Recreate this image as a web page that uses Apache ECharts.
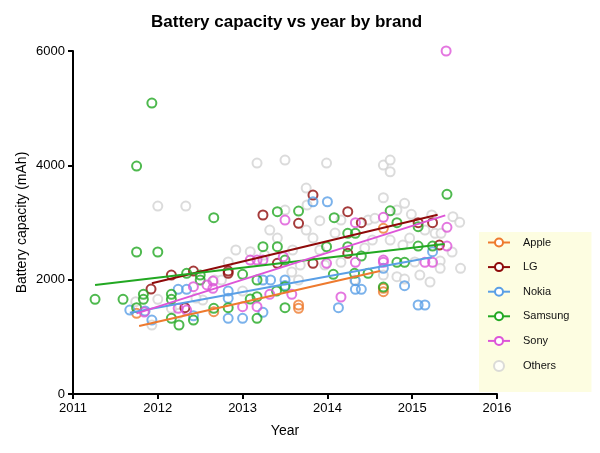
<!DOCTYPE html>
<html><head><meta charset="utf-8">
<script src="https://cdn.jsdelivr.net/npm/echarts@6/dist/echarts.min.js"></script>
<style>html,body{margin:0;padding:0;background:#fff}#c{width:600px;height:453px}</style>
</head><body><div id="c"></div><script>
// ---- data ----
const titleText = 'Battery capacity vs year by brand';
const xName = 'Year';
const yName = 'Battery capacity (mAh)';
const xTicks = [2011, 2012, 2013, 2014, 2015, 2016];
const yTicks = [0, 2000, 4000, 6000];
const legendNames = ['Apple', 'LG', 'Nokia', 'Samsung', 'Sony', 'Others'];

const appleData = [[2011.75,1411],[2012.66,1440],[2013.66,1557],[2013.66,1499],[2014.66,1849],[2014.66,1789],[2014.66,2898]];
const lgData = [[2011.92,1836],[2012.16,2081],[2012.42,2151],[2012.32,1509],[2012.83,2150],[2012.83,2111],[2013.24,3131],[2013.66,2986],[2013.41,2286],[2013.83,2286],[2013.83,3480],[2014.24,3190],[2014.40,2996],[2014.24,2460],[2015.07,2996],[2015.24,2996],[2015.32,2606]];
const nokiaData = [[2011.67,1469],[2011.85,1452],[2011.93,1294],[2012.24,1831],[2012.34,1831],[2012.42,1369],[2012.83,1801],[2012.83,1675],[2012.83,1324],[2013.0,1324],[2013.24,1994],[2013.33,1994],[2013.5,1994],[2013.5,1900],[2013.24,1429],[2013.83,3363],[2014.0,3363],[2014.13,1509],[2014.33,1831],[2014.40,1831],[2014.33,1982],[2014.66,2198],[2014.91,1894],[2015.07,1557],[2015.15,1557],[2015.24,2489]];
const samsungData = [[2011.26,1656],[2011.59,1656],[2011.75,3988],[2011.75,2484],[2011.75,1509],[2011.83,1744],[2011.83,1656],[2011.93,5090],[2012.0,2484],[2012.16,1744],[2012.16,1656],[2012.16,1324],[2012.25,1207],[2012.42,1294],[2012.34,2111],[2012.5,2081],[2012.5,1994],[2012.66,3085],[2012.66,1499],[2012.83,1509],[2013.0,2094],[2013.17,1994],[2013.09,1661],[2013.17,1702],[2013.17,1324],[2013.24,2577],[2013.41,2577],[2013.41,3189],[2013.66,3200],[2013.5,2343],[2013.5,1877],[2013.40,1801],[2013.5,1509],[2013.99,2577],[2014.08,3085],[2014.07,2094],[2014.24,2810],[2014.33,2810],[2014.24,2577],[2014.40,2413],[2014.32,2111],[2014.48,2111],[2014.74,3205],[2014.82,2996],[2014.66,1871],[2014.82,2303],[2014.91,2303],[2015.07,2926],[2015.07,2588],[2015.24,2588],[2015.41,3493]];
const sonyData = [[2015.40,6000],[2011.84,1434],[2012.24,1499],[2012.34,1469],[2012.42,1877],[2012.58,1907],[2012.65,1976],[2012.65,1849],[2013.09,2343],[2013.17,2343],[2013.24,2343],[2013.32,1744],[2013.58,1744],[2013.0,1527],[2013.17,1527],[2013.5,3043],[2013.48,2401],[2013.99,2286],[2014.16,1697],[2014.33,2996],[2014.33,2303],[2014.66,3090],[2014.66,2343],[2014.66,2303],[2015.15,2303],[2015.24,2303],[2015.41,2915],[2015.41,2588]];
const othersData = [[2012.0,3288],[2012.33,3288],[2013.17,4040],[2013.5,4093],[2013.99,4040],[2014.66,4005],[2014.74,4093],[2014.74,3888],[2013.75,3603],[2014.66,3433],[2014.91,3335],[2013.91,3031],[2013.5,3218],[2013.76,3306],[2014.16,3043],[2014.48,3043],[2014.56,3073],[2014.82,3218],[2014.99,3143],[2015.23,3131],[2015.48,3101],[2015.56,3003],[2015.15,2868],[2015.27,2811],[2015.34,2811],[2014.09,2816],[2015.33,2326],[2015.33,2198],[2015.57,2198],[2014.16,2303],[2014.32,1994],[2014.66,2081],[2014.82,2052],[2014.91,2011],[2013.66,1994],[2013.0,1801],[2013.09,2489],[2012.0,1656],[2011.74,1614],[2011.93,1207],[2012.25,1411],[2012.67,1994],[2012.75,1994],[2012.53,1644],[2012.16,1499],[2013.32,2868],[2013.41,2728],[2013.75,2868],[2013.83,2728],[2013.91,2519],[2013.59,2519],[2013.26,2431],[2013.68,2256],[2013.97,2256],[2013.58,2134],[2014.74,2693],[2014.89,2606],[2014.97,2728],[2015.47,2484],[2015.03,2309],[2015.09,2081],[2015.21,1959],[2014.53,2693],[2014.44,2554],[2012.92,2519],[2012.83,2309],[2012.45,1679]];

// regression line endpoints [year, mAh]
const appleTrend = [[2011.78,1190],[2014.62,2150]];
const lgTrend = [[2011.93,1936],[2015.30,3136]];
const nokiaTrend = [[2011.67,1420],[2015.23,2391]];
const samsungTrend = [[2011.26,1907],[2015.38,2624]];
const sonyTrend = [[2011.75,1411],[2015.39,3125]];

// ---- style ----
const FONT = 'Liberation Sans, Arial, sans-serif';
const colors = {Apple:'#ee7a2e', LG:'#8e0a0a', Nokia:'#5a9fe6', Samsung:'#22a822', Sony:'#dd55d8', Others:'#d2d2d2'};
const brandData = {Apple:appleData, LG:lgData, Nokia:nokiaData, Samsung:samsungData, Sony:sonyData};
const brandTrend = {Apple:appleTrend, LG:lgTrend, Nokia:nokiaTrend, Samsung:samsungTrend, Sony:sonyTrend};
const brands = ['Apple','LG','Nokia','Samsung','Sony'];

const series = [];
brands.forEach(b => {
  series.push({
    name: b, type: 'line', data: brandTrend[b], symbol: 'emptyCircle', showSymbol: false,
    z: 4, silent: true,
    lineStyle: {color: colors[b], width: 2}, itemStyle: {color: colors[b]}
  });
});
series.push({
  name: 'Others', type: 'scatter', data: othersData, symbol: 'emptyCircle', symbolSize: 9, z: 1,
  itemStyle: {color: colors.Others, borderColor: colors.Others, borderWidth: 2}
});
brands.forEach(b => {
  series.push({
    name: b, type: 'scatter', data: brandData[b], symbol: 'circle', symbolSize: 9, z: 2,
    itemStyle: {color: 'rgba(255,255,255,0)', borderColor: colors[b], borderWidth: 2}
  });
});

const chart = echarts.init(document.getElementById('c'), null, {renderer: 'canvas'});
chart.setOption({
  animation: false,
  backgroundColor: '#fff',
  title: {text: titleText, left: 146, top: 9,
    textStyle: {fontFamily: FONT, fontSize: 17, fontWeight: 'bold', color: '#000'}},
  grid: {left: 73, right: 103, top: 51, bottom: 59},
  legend: {
    orient: 'vertical', left: 479, top: 232,
    backgroundColor: '#fdfde1', padding: [5, 22, 20, 8],
    itemWidth: 22, itemHeight: 10, itemGap: 13.6,
    textStyle: {fontFamily: FONT, fontSize: 11, color: '#111', padding: [0,0,0,8]},
    data: legendNames, selectedMode: false
  },
  xAxis: {
    type: 'value', min: xTicks[0], max: xTicks[xTicks.length-1], interval: 1,
    name: xName, nameLocation: 'middle', nameGap: 30, nameMoveOverlap: false,
    nameTextStyle: {fontFamily: FONT, fontSize: 14, color: '#000'},
    axisLine: {show: true, onZero: false, lineStyle: {color: '#000', width: 2}},
    axisTick: {show: true, length: 5, lineStyle: {color: '#000', width: 2}},
    axisLabel: {fontFamily: FONT, fontSize: 13, color: '#000', margin: 8, formatter: v => String(v)},
    splitLine: {show: false}
  },
  yAxis: {
    type: 'value', min: yTicks[0], max: yTicks[yTicks.length-1], interval: 2000,
    name: yName, nameLocation: 'middle', nameGap: 44, nameMoveOverlap: false,
    nameTextStyle: {fontFamily: FONT, fontSize: 14, color: '#000'},
    axisLine: {show: true, lineStyle: {color: '#000', width: 2}},
    axisTick: {show: true, length: 5, lineStyle: {color: '#000', width: 2}},
    axisLabel: {fontFamily: FONT, fontSize: 13, color: '#000', margin: 8, formatter: v => String(v)},
    splitLine: {show: false}
  },
  series: series
});
</script></body></html>
